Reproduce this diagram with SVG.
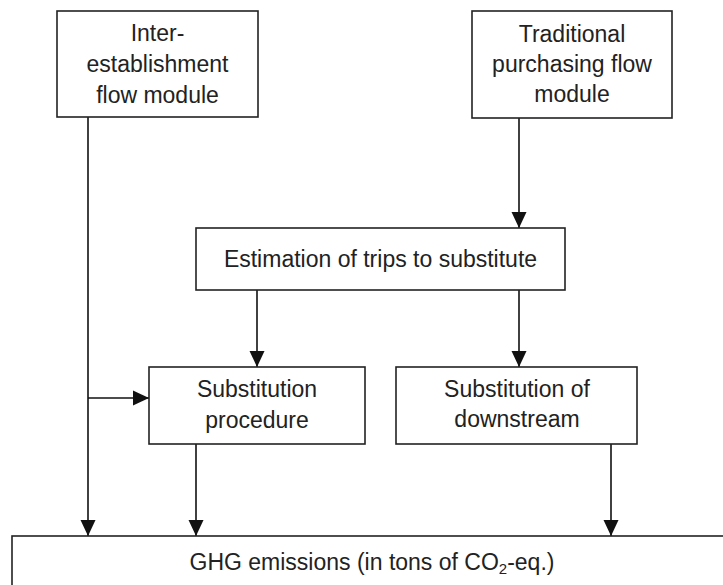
<svg xmlns="http://www.w3.org/2000/svg" width="723" height="585" viewBox="0 0 723 585">
  <style>
    .box { fill: #ffffff; stroke: #222222; stroke-width: 1.6; }
    .lbl { font-family: "Liberation Sans", Arial, sans-serif; font-size: 23px; fill: #222222; text-anchor: middle; }
    .conn { stroke: #111111; stroke-width: 1.6; fill: none; }
  </style>
  <defs>
    <marker id="arrow" markerUnits="userSpaceOnUse" markerWidth="16" markerHeight="16" refX="16" refY="8" orient="auto">
      <path d="M0,0.5 L16,8 L0,15.5 z" fill="#111111"/>
    </marker>
  </defs>
  <rect width="723" height="585" fill="#ffffff"/>

  <g id="connectors">
    <line class="conn" x1="88" y1="117" x2="88" y2="536" marker-end="url(#arrow)"/>
    <line class="conn" x1="88" y1="398" x2="149" y2="398" marker-end="url(#arrow)"/>
    <line class="conn" x1="519" y1="118" x2="519" y2="228" marker-end="url(#arrow)"/>
    <line class="conn" x1="257" y1="290" x2="257" y2="367" marker-end="url(#arrow)"/>
    <line class="conn" x1="519" y1="290" x2="519" y2="367" marker-end="url(#arrow)"/>
    <line class="conn" x1="196" y1="444" x2="196" y2="536" marker-end="url(#arrow)"/>
    <line class="conn" x1="611" y1="444" x2="611" y2="536" marker-end="url(#arrow)"/>
  </g>

  <g id="inter-establishment">
    <rect class="box" x="57" y="11" width="201" height="106"/>
    <text class="lbl" x="157.5" y="41">Inter-</text>
    <text class="lbl" x="157.5" y="72">establishment</text>
    <text class="lbl" x="157.5" y="103">flow module</text>
  </g>

  <g id="traditional-purchasing">
    <rect class="box" x="472" y="11" width="200" height="107"/>
    <text class="lbl" x="572" y="42">Traditional</text>
    <text class="lbl" x="572" y="72">purchasing flow</text>
    <text class="lbl" x="572" y="102">module</text>
  </g>

  <g id="estimation">
    <rect class="box" x="196" y="228" width="369" height="62"/>
    <text class="lbl" x="380.5" y="267">Estimation of trips to substitute</text>
  </g>

  <g id="substitution-procedure">
    <rect class="box" x="149" y="367" width="216" height="77"/>
    <text class="lbl" x="257" y="397">Substitution</text>
    <text class="lbl" x="257" y="428">procedure</text>
  </g>

  <g id="substitution-downstream">
    <rect class="box" x="396" y="367" width="241" height="77"/>
    <text class="lbl" x="517" y="397">Substitution of</text>
    <text class="lbl" x="517" y="427">downstream</text>
  </g>

  <g id="ghg-emissions">
    <rect class="box" x="12" y="536" width="730" height="70"/>
    <text class="lbl" x="372" y="570">GHG emissions (in tons of CO<tspan font-size="15" dy="4">2</tspan><tspan dy="-4">-eq.)</tspan></text>
  </g>
</svg>
